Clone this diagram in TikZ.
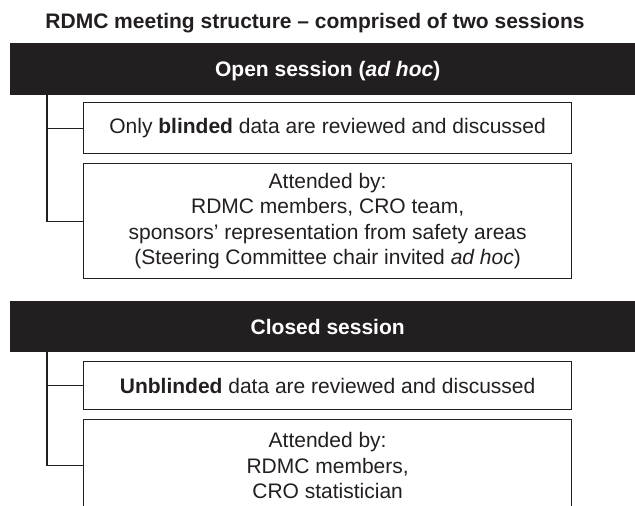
\documentclass[tikz,border=0pt]{standalone}
\usepackage{fontspec}
\setmainfont{Liberation Sans}
\definecolor{ink}{HTML}{231F20}
\begin{document}
\begin{tikzpicture}[x=1pt,y=-1pt,
  titletext/.style={text=ink, font=\bfseries\fontsize{21}{25}\selectfont, inner sep=0, anchor=base},
  bar/.style={fill=ink, draw=none, text=white, font=\bfseries\fontsize{21}{25}\selectfont,
    minimum width=635pt, anchor=north west, inner sep=0, text height=15pt, text depth=0pt},
  box/.style={draw=ink, line width=1.3pt, fill=white, text=ink,
    font=\fontsize{21}{25.5}\selectfont, align=center, minimum width=488pt,
    anchor=north west, inner sep=0},
  link/.style={draw=ink, line width=1.3pt}]
\useasboundingbox (0,0) rectangle (635,506);
\clip (0,0) rectangle (635,506);
\fill[white] (0,0) rectangle (635,506);

\node[titletext] (title) at (315,28) {RDMC meeting structure -- comprised of two sessions};

% Open session
\node[bar, minimum height=52pt] (bar1) at (10,43) {Open session (\textit{ad hoc})};
\node[box, minimum height=51pt] (b1) at (83,102) {Only \textbf{blinded} data are reviewed and discussed};
\node[box, minimum height=115pt] (b2) at (83,163) {Attended by:\\RDMC members, CRO team,\\sponsors’ representation from safety areas\\(Steering Committee chair invited \textit{ad hoc})};
\coordinate (j1) at ([xshift=37pt]bar1.south west);
\draw[link] (j1) |- (b2.west);
\draw[link] (b1.west) -- (b1.west -| j1);

% Closed session
\node[bar, minimum height=51pt] (bar2) at (10,301) {Closed session};
\node[box, minimum height=48pt] (b3) at (83,361) {\textbf{Unblinded} data are reviewed and discussed};
\node[box, minimum height=92pt] (b4) at (83,419) {Attended by:\\RDMC members,\\CRO statistician};
\coordinate (j2) at ([xshift=37pt]bar2.south west);
\draw[link] (j2) |- (b4.west);
\draw[link] (b3.west) -- (b3.west -| j2);
\end{tikzpicture}
\end{document}
